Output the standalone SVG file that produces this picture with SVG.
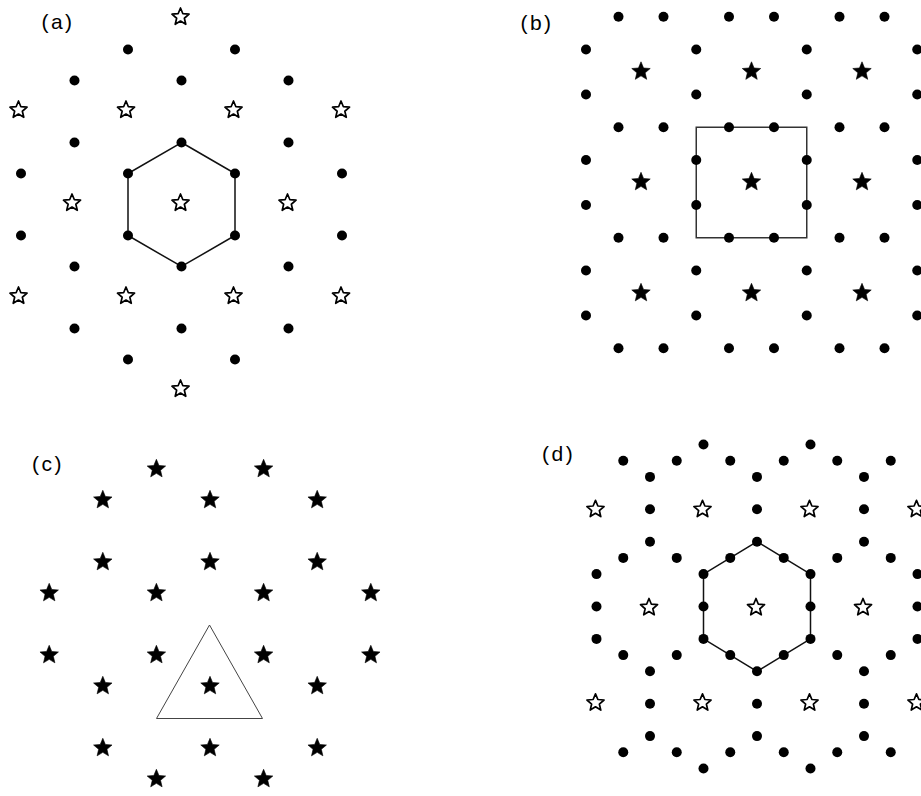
<svg xmlns="http://www.w3.org/2000/svg" width="921" height="796" viewBox="0 0 921 796">
<style>
.lbl{font-family:"Liberation Sans",Arial,sans-serif;font-size:21px;letter-spacing:2.5px;fill:#000}
.d{fill:#000}
.so{fill:#fff;stroke:#000;stroke-width:1.7;stroke-linejoin:round}
.sf{fill:#000;stroke:#000;stroke-width:0.6;stroke-linejoin:round}
.hex{fill:none;stroke:#111;stroke-width:1.5}
.sq{fill:none;stroke:#333;stroke-width:1.5}
.tri{fill:none;stroke:#444;stroke-width:1}
</style>
<defs>
<circle id="dot" r="5" class="d"/>
<path id="starO" class="so" d="M0,-9 L2.38,-3.28 L8.56,-2.78 L3.85,1.25 L5.29,7.28 L0,4.05 L-5.29,7.28 L-3.85,1.25 L-8.56,-2.78 L-2.38,-3.28 Z"/>
<path id="starF" class="sf" d="M0,-9.7 L2.57,-3.53 L9.23,-3.0 L4.15,1.35 L5.7,7.85 L0,4.37 L-5.7,7.85 L-4.15,1.35 L-9.23,-3.0 L-2.57,-3.53 Z"/>
</defs>
<rect width="921" height="796" fill="#fff"/>

<g id="panel-a">
<text class="lbl" x="41.4" y="29">(a)</text>
<polygon id="a-hexagon" class="hex" points="181.5,142.5 235,173.5 235,235.5 181.5,266.5 128,235.5 128,173.5"/>
<g id="a-dots">
<use href="#dot" x="128" y="49.5"/><use href="#dot" x="235" y="49.5"/>
<use href="#dot" x="74.5" y="80.5"/><use href="#dot" x="181.5" y="80.5"/><use href="#dot" x="288.5" y="80.5"/>
<use href="#dot" x="74.5" y="142.5"/><use href="#dot" x="181.5" y="142.5"/><use href="#dot" x="288.5" y="142.5"/>
<use href="#dot" x="21" y="173.5"/><use href="#dot" x="128" y="173.5"/><use href="#dot" x="235" y="173.5"/><use href="#dot" x="342" y="173.5"/>
<use href="#dot" x="21" y="235.5"/><use href="#dot" x="128" y="235.5"/><use href="#dot" x="235" y="235.5"/><use href="#dot" x="342" y="235.5"/>
<use href="#dot" x="74.5" y="266.5"/><use href="#dot" x="181.5" y="266.5"/><use href="#dot" x="288.5" y="266.5"/>
<use href="#dot" x="74.5" y="328.5"/><use href="#dot" x="181.5" y="328.5"/><use href="#dot" x="288.5" y="328.5"/>
<use href="#dot" x="128" y="359.5"/><use href="#dot" x="235" y="359.5"/>
</g>
<g id="a-stars">
<use href="#starO" x="180.5" y="17"/>
<use href="#starO" x="18.5" y="110"/><use href="#starO" x="126" y="110"/><use href="#starO" x="233.5" y="110"/><use href="#starO" x="341" y="110"/>
<use href="#starO" x="72" y="203"/><use href="#starO" x="180.5" y="203"/><use href="#starO" x="287.5" y="203"/>
<use href="#starO" x="18.5" y="296"/><use href="#starO" x="126" y="296"/><use href="#starO" x="233.5" y="296"/><use href="#starO" x="341" y="296"/>
<use href="#starO" x="180.5" y="389"/>
</g>
</g>

<g id="panel-b">
<text class="lbl" x="520.4" y="30">(b)</text>
<rect id="b-square" class="sq" x="696.25" y="127.25" width="110.5" height="110.5"/>
<g id="b-dots">
<use href="#dot" x="618.5" y="16.75"/><use href="#dot" x="663.5" y="16.75"/><use href="#dot" x="729" y="16.75"/><use href="#dot" x="774" y="16.75"/><use href="#dot" x="839.5" y="16.75"/><use href="#dot" x="884.5" y="16.75"/>
<use href="#dot" x="618.5" y="127.25"/><use href="#dot" x="663.5" y="127.25"/><use href="#dot" x="729" y="127.25"/><use href="#dot" x="774" y="127.25"/><use href="#dot" x="839.5" y="127.25"/><use href="#dot" x="884.5" y="127.25"/>
<use href="#dot" x="618.5" y="237.75"/><use href="#dot" x="663.5" y="237.75"/><use href="#dot" x="729" y="237.75"/><use href="#dot" x="774" y="237.75"/><use href="#dot" x="839.5" y="237.75"/><use href="#dot" x="884.5" y="237.75"/>
<use href="#dot" x="618.5" y="348.25"/><use href="#dot" x="663.5" y="348.25"/><use href="#dot" x="729" y="348.25"/><use href="#dot" x="774" y="348.25"/><use href="#dot" x="839.5" y="348.25"/><use href="#dot" x="884.5" y="348.25"/>
<use href="#dot" x="586" y="49.5"/><use href="#dot" x="586" y="94.5"/><use href="#dot" x="586" y="160"/><use href="#dot" x="586" y="205"/><use href="#dot" x="586" y="270.5"/><use href="#dot" x="586" y="315.5"/>
<use href="#dot" x="696.25" y="49.5"/><use href="#dot" x="696.25" y="94.5"/><use href="#dot" x="696.25" y="160"/><use href="#dot" x="696.25" y="205"/><use href="#dot" x="696.25" y="270.5"/><use href="#dot" x="696.25" y="315.5"/>
<use href="#dot" x="806.75" y="49.5"/><use href="#dot" x="806.75" y="94.5"/><use href="#dot" x="806.75" y="160"/><use href="#dot" x="806.75" y="205"/><use href="#dot" x="806.75" y="270.5"/><use href="#dot" x="806.75" y="315.5"/>
<use href="#dot" x="917.25" y="49.5"/><use href="#dot" x="917.25" y="94.5"/><use href="#dot" x="917.25" y="160"/><use href="#dot" x="917.25" y="205"/><use href="#dot" x="917.25" y="270.5"/><use href="#dot" x="917.25" y="315.5"/>
</g>
<g id="b-stars">
<use href="#starF" x="641" y="71.5"/><use href="#starF" x="751.5" y="71.5"/><use href="#starF" x="862" y="71.5"/>
<use href="#starF" x="641" y="182"/><use href="#starF" x="751.5" y="182"/><use href="#starF" x="862" y="182"/>
<use href="#starF" x="641" y="293"/><use href="#starF" x="751.5" y="293"/><use href="#starF" x="862" y="293"/>
</g>
</g>

<g id="panel-c">
<text class="lbl" x="32" y="470.7">(c)</text>
<polygon id="c-triangle" class="tri" points="209.5,625 156.5,718.5 262.5,718.5"/>
<g id="c-stars">
<use href="#starF" x="156.4" y="469"/><use href="#starF" x="263.6" y="469"/>
<use href="#starF" x="102.8" y="500"/><use href="#starF" x="210" y="500"/><use href="#starF" x="317.2" y="500"/>
<use href="#starF" x="102.8" y="562"/><use href="#starF" x="210" y="562"/><use href="#starF" x="317.2" y="562"/>
<use href="#starF" x="49.2" y="593"/><use href="#starF" x="156.4" y="593"/><use href="#starF" x="263.6" y="593"/><use href="#starF" x="370.8" y="593"/>
<use href="#starF" x="49.2" y="655"/><use href="#starF" x="156.4" y="655"/><use href="#starF" x="263.6" y="655"/><use href="#starF" x="370.8" y="655"/>
<use href="#starF" x="102.8" y="686"/><use href="#starF" x="210" y="686"/><use href="#starF" x="317.2" y="686"/>
<use href="#starF" x="102.8" y="748"/><use href="#starF" x="210" y="748"/><use href="#starF" x="317.2" y="748"/>
<use href="#starF" x="156.4" y="779"/><use href="#starF" x="263.6" y="779"/>
</g>
</g>

<g id="panel-d">
<text class="lbl" x="542" y="461.4">(d)</text>
<polygon id="d-hexagon" class="hex" points="757,541.7 810.5,574.1 810.5,638.9 757,671.3 703.5,638.9 703.5,574.1"/>
<g id="d-dots">
<use href="#dot" x="703.5" y="444.5"/><use href="#dot" x="810.5" y="444.5"/>
<use href="#dot" x="623.25" y="460.7"/><use href="#dot" x="676.75" y="460.7"/><use href="#dot" x="730.25" y="460.7"/><use href="#dot" x="783.75" y="460.7"/><use href="#dot" x="837.25" y="460.7"/><use href="#dot" x="890.75" y="460.7"/>
<use href="#dot" x="650" y="476.9"/><use href="#dot" x="757" y="476.9"/><use href="#dot" x="864" y="476.9"/>
<use href="#dot" x="650" y="509.3"/><use href="#dot" x="757" y="509.3"/><use href="#dot" x="864" y="509.3"/>
<use href="#dot" x="650" y="541.7"/><use href="#dot" x="757" y="541.7"/><use href="#dot" x="864" y="541.7"/>
<use href="#dot" x="623.25" y="557.9"/><use href="#dot" x="676.75" y="557.9"/><use href="#dot" x="730.25" y="557.9"/><use href="#dot" x="783.75" y="557.9"/><use href="#dot" x="837.25" y="557.9"/><use href="#dot" x="890.75" y="557.9"/>
<use href="#dot" x="596.5" y="574.1"/><use href="#dot" x="703.5" y="574.1"/><use href="#dot" x="810.5" y="574.1"/><use href="#dot" x="917.5" y="574.1"/>
<use href="#dot" x="596.5" y="606.5"/><use href="#dot" x="703.5" y="606.5"/><use href="#dot" x="810.5" y="606.5"/><use href="#dot" x="917.5" y="606.5"/>
<use href="#dot" x="596.5" y="638.9"/><use href="#dot" x="703.5" y="638.9"/><use href="#dot" x="810.5" y="638.9"/><use href="#dot" x="917.5" y="638.9"/>
<use href="#dot" x="623.25" y="655.1"/><use href="#dot" x="676.75" y="655.1"/><use href="#dot" x="730.25" y="655.1"/><use href="#dot" x="783.75" y="655.1"/><use href="#dot" x="837.25" y="655.1"/><use href="#dot" x="890.75" y="655.1"/>
<use href="#dot" x="650" y="671.3"/><use href="#dot" x="757" y="671.3"/><use href="#dot" x="864" y="671.3"/>
<use href="#dot" x="650" y="703.7"/><use href="#dot" x="757" y="703.7"/><use href="#dot" x="864" y="703.7"/>
<use href="#dot" x="650" y="736.1"/><use href="#dot" x="757" y="736.1"/><use href="#dot" x="864" y="736.1"/>
<use href="#dot" x="623.25" y="752.3"/><use href="#dot" x="676.75" y="752.3"/><use href="#dot" x="730.25" y="752.3"/><use href="#dot" x="783.75" y="752.3"/><use href="#dot" x="837.25" y="752.3"/><use href="#dot" x="890.75" y="752.3"/>
<use href="#dot" x="703.5" y="768.5"/><use href="#dot" x="810.5" y="768.5"/>
</g>
<g id="d-stars">
<use href="#starO" x="595.5" y="509.3"/><use href="#starO" x="702.5" y="509.3"/><use href="#starO" x="809.5" y="509.3"/><use href="#starO" x="916.5" y="509.3"/>
<use href="#starO" x="649" y="607.5"/><use href="#starO" x="756" y="607.5"/><use href="#starO" x="863" y="607.5"/>
<use href="#starO" x="595.5" y="702.8"/><use href="#starO" x="702.5" y="702.8"/><use href="#starO" x="809.5" y="702.8"/><use href="#starO" x="916.5" y="702.8"/>
</g>
</g>
</svg>
